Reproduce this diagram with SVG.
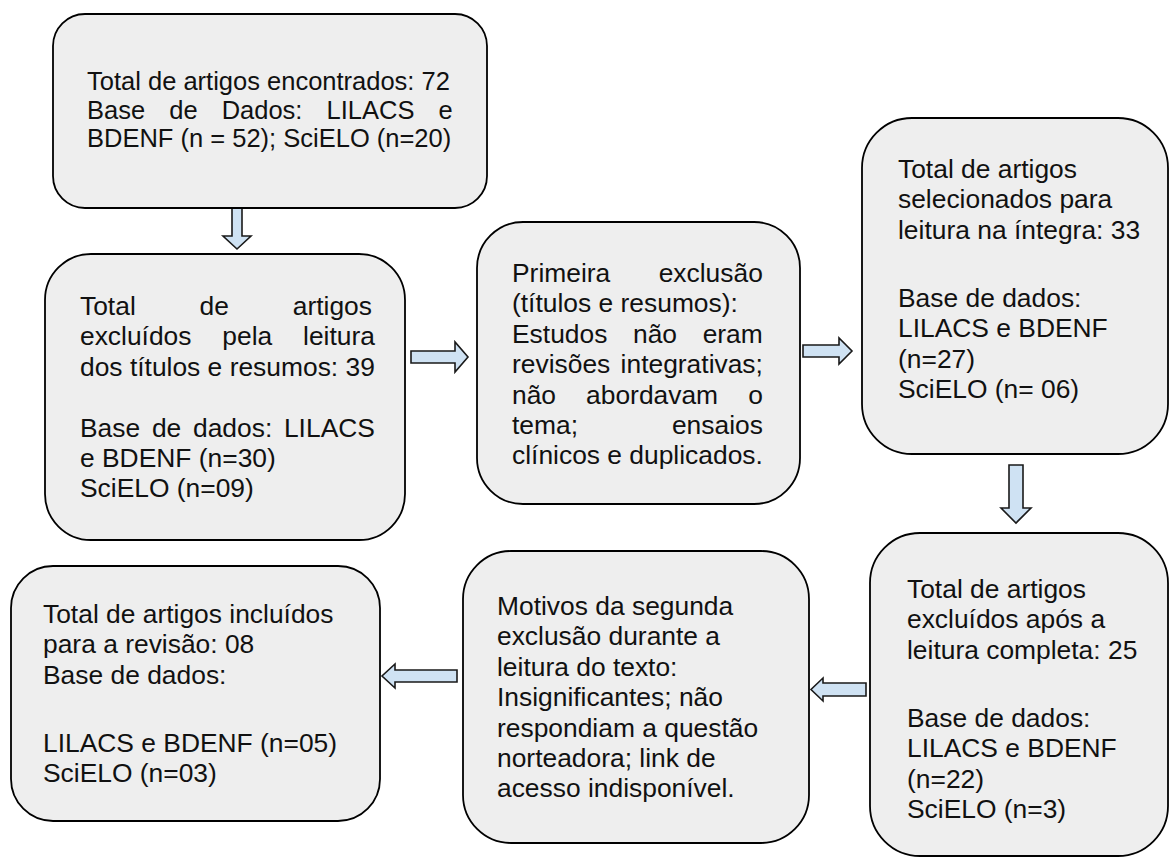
<svg xmlns="http://www.w3.org/2000/svg" width="1171" height="859" viewBox="0 0 1171 859">
<style>
.box{fill:#eeeeee;stroke:#000;stroke-width:1.8}
.arr{fill:#cfe2f3;stroke:#1a1a1a;stroke-width:1.6;stroke-linejoin:miter}
text{font-family:"Liberation Sans",Arial,sans-serif;font-size:26.4px;fill:#111}
#n1 text{font-size:25.5px}
</style>
<rect width="1171" height="859" fill="#fff"/>
<g id="connectors">
<polygon class="arr" points="232,208 242,208 242,236 251,236 237,249 223,236 232,236"/>
<polygon class="arr" points="411,351 455,351 455,342 468,357 455,372 455,363 411,363"/>
<polygon class="arr" points="803,345 839,345 839,338 852,351 839,364 839,357 803,357"/>
<polygon class="arr" points="1009,465 1023,465 1023,508 1031,508 1016,523 1001,508 1009,508"/>
<polygon class="arr" points="866,683 823,683 823,678 811,689.5 823,701 823,696 866,696"/>
<polygon class="arr" points="457,670 395,670 395,664 382,676 395,688 395,682 457,682"/>
</g>
<g id="n1">
<rect class="box" x="53" y="14" width="434" height="194" rx="32"/>
<text x="87" y="90">Total de artigos encontrados: 72</text>
<text x="87" y="118.5" word-spacing="17">Base de Dados: LILACS e</text>
<text x="87" y="147">BDENF (n = 52); SciELO (n=20)</text>
</g>
<g id="n2">
<rect class="box" x="45" y="254" width="360" height="286" rx="46"/>
<text x="80" y="315" word-spacing="56.5">Total de artigos</text>
<text x="80" y="345.4" word-spacing="23.5">excluídos pela leitura</text>
<text x="80" y="375.8">dos títulos e resumos: 39</text>
<text x="80" y="436.6" word-spacing="4.4">Base de dados: LILACS</text>
<text x="80" y="467">e BDENF (n=30)</text>
<text x="80" y="497.4">SciELO (n=09)</text>
</g>
<g id="n3">
<rect class="box" x="477" y="222" width="323" height="282" rx="46"/>
<text x="512" y="282" word-spacing="41.1">Primeira exclusão</text>
<text x="512" y="312.4">(títulos e resumos):</text>
<text x="512" y="342.8" word-spacing="18.3">Estudos não eram</text>
<text x="512" y="373.2" word-spacing="3">revisões integrativas;</text>
<text x="512" y="403.6" word-spacing="22.7">não abordavam o</text>
<text x="512" y="434" word-spacing="86.6">tema; ensaios</text>
<text x="512" y="464.4">clínicos e duplicados.</text>
</g>
<g id="n4">
<rect class="box" x="862" y="118" width="306" height="336" rx="50"/>
<text x="898" y="178">Total de artigos</text>
<text x="898" y="208.4">selecionados para</text>
<text x="898" y="238.8">leitura na íntegra: 33</text>
<text x="898" y="307">Base de dados:</text>
<text x="898" y="337.4">LILACS e BDENF</text>
<text x="898" y="367.8">(n=27)</text>
<text x="898" y="398.2">SciELO (n= 06)</text>
</g>
<g id="n5">
<rect class="box" x="463" y="551" width="346" height="292" rx="48"/>
<text x="497" y="615">Motivos da segunda</text>
<text x="497" y="645.4">exclusão durante a</text>
<text x="497" y="675.8">leitura do texto:</text>
<text x="497" y="706.2">Insignificantes; não</text>
<text x="497" y="736.6">respondiam a questão</text>
<text x="497" y="767">norteadora; link de</text>
<text x="497" y="797.4">acesso indisponível.</text>
</g>
<g id="n6">
<rect class="box" x="11" y="566" width="369" height="255" rx="42"/>
<text x="43" y="623">Total de artigos incluídos</text>
<text x="43" y="653.4">para a revisão: 08</text>
<text x="43" y="683.8">Base de dados:</text>
<text x="43" y="752">LILACS e BDENF (n=05)</text>
<text x="43" y="782.4">SciELO (n=03)</text>
</g>
<g id="n7">
<rect class="box" x="870" y="533" width="298" height="323" rx="50"/>
<text x="907" y="598">Total de artigos</text>
<text x="907" y="628.4">excluídos após a</text>
<text x="907" y="658.8">leitura completa: 25</text>
<text x="907" y="727">Base de dados:</text>
<text x="907" y="757.4">LILACS e BDENF</text>
<text x="907" y="787.8">(n=22)</text>
<text x="907" y="818.2">SciELO (n=3)</text>
</g>
</svg>
